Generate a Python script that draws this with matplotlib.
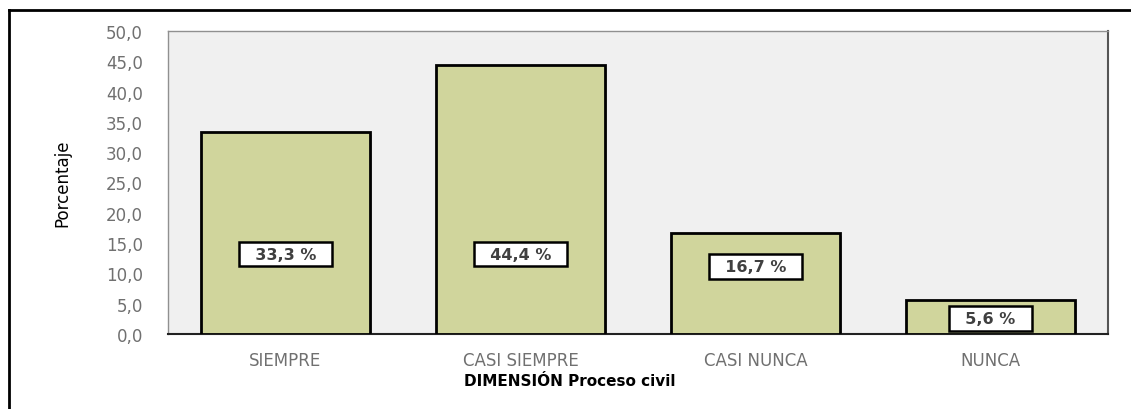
import matplotlib.pyplot as plt
import matplotlib.patheffects as pe
from matplotlib.lines import Line2D

categorias = ['SIEMPRE', 'CASI SIEMPRE', 'CASI NUNCA', 'NUNCA']
porcentajes = [33.3, 44.4, 16.7, 5.6]
etiquetas = ['33,3 %', '44,4 %', '16,7 %', '5,6 %']
pos_etiqueta = [13.2, 13.2, 11.1, 2.6]
yticks = [0, 5, 10, 15, 20, 25, 30, 35, 40, 45, 50]

fig = plt.figure(figsize=(11.31, 4.10), dpi=100)
fig.patch.set_facecolor('white')
ax = fig.add_axes([168 / 1131, 1 - 335 / 410, 940 / 1131, 303 / 410])
ax.set_facecolor('#f0f0f0')

x = range(len(categorias))
bars = ax.bar(x, porcentajes, width=0.715, color='#d0d59c', edgecolor='black', linewidth=2.0, zorder=3)
for b in bars:
    b.set_path_effects([pe.SimplePatchShadow(offset=(2, -2), shadow_rgbFace='#999999', alpha=0.5), pe.Normal()])

for i, (t, yv) in enumerate(zip(etiquetas, pos_etiqueta)):
    ax.text(i, yv, '  ' + t + '  ', ha='center', va='center', fontsize=11.5, fontweight='bold', color='#404040',
            zorder=5, bbox=dict(boxstyle='square,pad=0.3', facecolor='white', edgecolor='black', linewidth=1.8))

ax.set_xlim(-0.5, 3.5)
ax.set_ylim(0, 50)
ax.set_yticks(yticks)
ax.set_yticklabels([('%.1f' % v).replace('.', ',') for v in yticks])
ax.set_xticks(list(x))
ax.set_xticklabels(categorias)
ax.tick_params(axis='both', length=0, colors='#707070', labelsize=12)
ax.tick_params(axis='y', pad=18)
ax.tick_params(axis='x', pad=12)

for s in ['left', 'top']:
    ax.spines[s].set_color('#909090')
    ax.spines[s].set_linewidth(1)
ax.spines['right'].set_color('#555555')
ax.spines['right'].set_linewidth(1.5)
ax.spines['bottom'].set_color('#222222')
ax.spines['bottom'].set_linewidth(1.5)

fig.text(570 / 1131, 1 - 382 / 410, 'DIMENSIÓN Proceso civil', ha='center', va='center', fontsize=11,
         fontweight='bold', color='black')
fig.text(62 / 1131, 1 - 183 / 410, 'Porcentaje', rotation=90, ha='center', va='center', fontsize=12,
         family=['Liberation Sans Narrow', 'DejaVu Sans'])

# marco exterior
fig.add_artist(Line2D([9 / 1131, 1], [1 - 11 / 410, 1 - 11 / 410], color='black', linewidth=2))
fig.add_artist(Line2D([9 / 1131, 9 / 1131], [0, 1 - 11 / 410], color='black', linewidth=2))

fig.savefig('out.png', dpi=100)
